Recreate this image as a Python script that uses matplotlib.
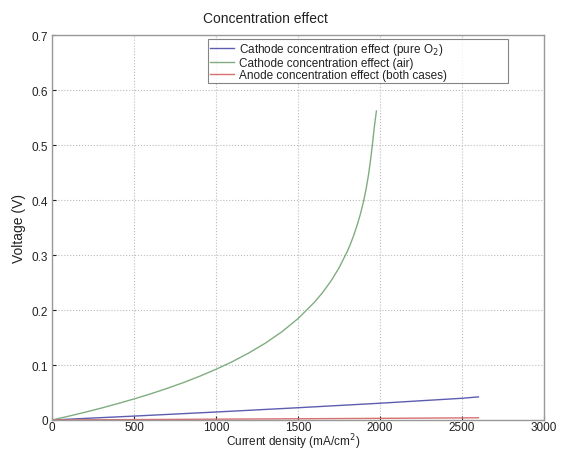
import matplotlib
matplotlib.use("Agg")
import matplotlib.pyplot as plt

plt.rcParams['font.family'] = ['Liberation Sans', 'DejaVu Sans']

# Cathode concentration loss with air
air_i = [0, 100, 200, 300, 400, 500, 600, 700, 800, 900, 1000, 1100, 1200, 1300,
         1400, 1500, 1600, 1650, 1700, 1750, 1800, 1820, 1840, 1860, 1880, 1900,
         1915, 1930, 1945, 1955, 1965, 1978]
air_v = [0, 0.0068, 0.0140, 0.0216, 0.0297, 0.0383, 0.0474, 0.0573, 0.0679, 0.0795,
         0.0922, 0.1062, 0.1219, 0.1396, 0.1601, 0.1844, 0.2141, 0.2318, 0.2523,
         0.2766, 0.3063, 0.3203, 0.3360, 0.3540, 0.3740, 0.3980, 0.4200, 0.4460,
         0.4790, 0.5050, 0.5320, 0.5620]

# Cathode concentration loss with pure oxygen
o2_i = [0, 500, 1000, 1500, 2000, 2500, 2600]
o2_v = [0, 0.0071, 0.0145, 0.0223, 0.0305, 0.0395, 0.0420]

# Anode concentration loss
an_i = [0, 1000, 2000, 2600]
an_v = [0, 0.0015, 0.0030, 0.0040]

x_ticks = [0, 500, 1000, 1500, 2000, 2500, 3000]
y_ticks = [0, 0.1, 0.2, 0.3, 0.4, 0.5, 0.6, 0.7]
y_tick_labels = ['0', '0.1', '0.2', '0.3', '0.4', '0.5', '0.6', '0.7']

fig = plt.figure(figsize=(5.62, 4.52), dpi=100)
ax = fig.add_axes([0.0925, 0.0686, 0.8755, 0.8514])

ax.plot(o2_i, o2_v, color='#5c5cb0', lw=1.0, label='Cathode concentration effect (pure O$_2$)')
ax.plot(air_i, air_v, color='#80ad80', lw=1.0, label='Cathode concentration effect (air)')
ax.plot(an_i, an_v, color='#d87070', lw=1.0, label='Anode concentration effect (both cases)')

ax.set_xlim(0, 3000)
ax.set_ylim(0, 0.7)
ax.set_xticks(x_ticks)
ax.set_xticklabels([str(t) for t in x_ticks])
ax.set_yticks(y_ticks)
ax.set_yticklabels(y_tick_labels)
ax.tick_params(direction='in', length=3, labelsize=8.5, colors='#222222')
ax.tick_params(axis='x', pad=0.5)
ax.tick_params(axis='y', pad=3)
ax.grid(True, linestyle=':', color='#bbbbbb', lw=0.8)
for s in ax.spines.values():
    s.set_color('#999999')
    s.set_linewidth(1.0)

ax.set_xlabel('Current density (mA/cm$^2$)', fontsize=8.5, color='#222222')
ax.xaxis.set_label_coords(0.49, -0.030)
ax.set_ylabel('Voltage (V)', fontsize=10, color='#222222', labelpad=4)
fig.text(0.472, 0.958, 'Concentration effect', ha='center', va='center',
         fontsize=10, color='#222222')

leg = ax.legend(loc='upper left', bbox_to_anchor=(0.317, 0.5, 0.61, 0.491),
                mode='expand', fontsize=8.5, frameon=True, fancybox=False,
                borderpad=0.2, labelspacing=0.0, handlelength=2.0,
                handletextpad=0.4, borderaxespad=0)
leg.get_frame().set_edgecolor('#666666')
leg.get_frame().set_linewidth(0.8)
for t in leg.get_texts():
    t.set_color('#222222')

fig.savefig('out.png', dpi=100)
